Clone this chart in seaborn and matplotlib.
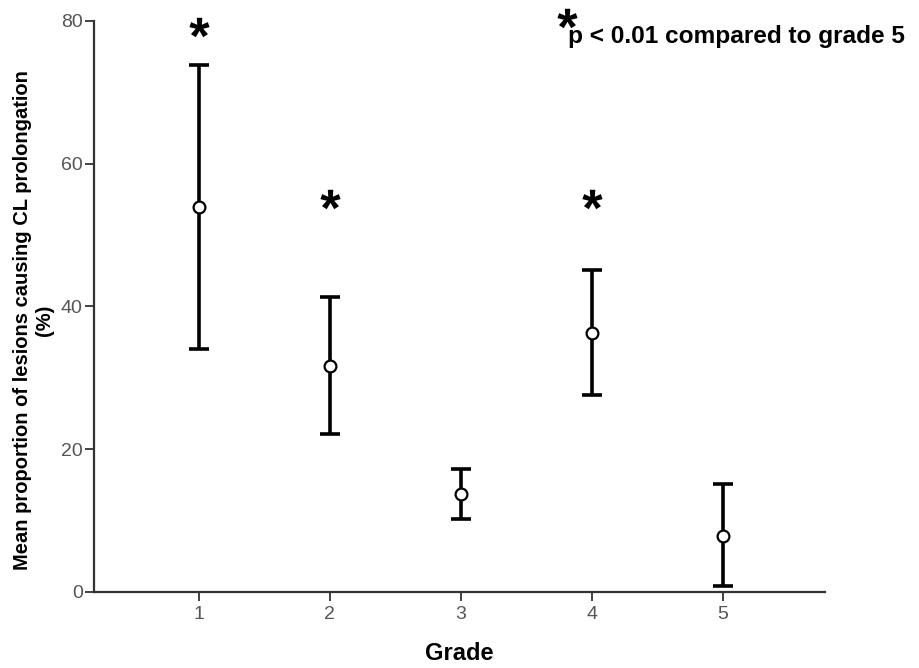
import matplotlib
matplotlib.use("Agg")
import matplotlib.pyplot as plt
import seaborn as sns
import pandas as pd
import numpy as np
from matplotlib.textpath import TextPath
from matplotlib.font_manager import FontProperties
from matplotlib.path import Path

# Mean proportion (%) per grade with lower/upper error-bar limits
grades = [1, 2, 3, 4, 5]
means = [53.9, 31.7, 13.7, 36.3, 7.8]
lower = [34.0, 22.1, 10.2, 27.6, 0.8]
upper = [73.8, 41.3, 17.2, 45.1, 15.1]
# Grades marked as significant and the height of their asterisks
sig_grades = [1, 2, 4]
sig_heights = [79.2, 55.1, 55.1]

df = pd.DataFrame({"Grade": grades, "Mean": means, "Lower": lower, "Upper": upper})
sig = pd.DataFrame({"Grade": sig_grades, "Height": sig_heights})

sns.set_theme(style="ticks")
plt.rcParams["font.family"] = ["Liberation Sans", "DejaVu Sans"]
plt.rcParams["text.color"] = "black"
plt.rcParams["axes.labelcolor"] = "black"

# Bold asterisk glyph turned into a centred marker path
_tp = TextPath((0, 0), "*", prop=FontProperties(family="Liberation Sans", weight="bold"))
_v = _tp.vertices.copy()
_codes = _tp.codes
_close = _codes == Path.CLOSEPOLY
_pts = _v[~_close]
_v -= (_pts.min(axis=0) + _pts.max(axis=0)) / 2
_v[_close] = 0.0
star = Path(_v, _codes)

fig = plt.figure(figsize=(9.2, 6.68), dpi=100)
ax = fig.add_axes([0.102, 0.1138, 0.795, 0.8548])

yerr = np.vstack([df["Mean"] - df["Lower"], df["Upper"] - df["Mean"]])
ax.errorbar(df["Grade"], df["Mean"], yerr=yerr, fmt="none", ecolor="black",
            elinewidth=2.6, capsize=7, capthick=2.6, zorder=2)
sns.scatterplot(data=df, x="Grade", y="Mean", ax=ax, marker="o", s=72,
                facecolor="white", edgecolor="black", linewidth=1.6, zorder=3)

sns.scatterplot(data=sig, x="Grade", y="Height", ax=ax, marker=star, s=210,
                color="black", linewidth=0, zorder=4, clip_on=False)

# Key for the asterisk
ax.plot([0.6165], [0.973], transform=fig.transFigure, marker=star,
        markersize=14.5, markeredgewidth=0, color="black", clip_on=False)
fig.text(0.617, 0.9356, "p < 0.01 compared to grade 5", ha="left",
         va="baseline", fontsize=17.6, fontweight="bold")

ax.set_xlim(0.2, 5.78)
ax.set_ylim(0, 80)
ax.set_xticks(grades)
ax.set_yticks([0, 20, 40, 60, 80])
ax.tick_params(axis="both", colors="#333333", labelcolor="#555555",
               labelsize=14, length=6.5, width=1.3)
ax.tick_params(axis="y", pad=1.5)
ax.tick_params(axis="x", pad=3.5)
sns.despine(ax=ax)
for side in ("left", "bottom"):
    ax.spines[side].set_linewidth(1.6)
    ax.spines[side].set_color("#333333")

ax.set_xlabel("Grade", fontsize=17, fontweight="bold")
ax.xaxis.label.set_va("center")
ax.xaxis.set_label_coords(0.5, -0.107)
ax.set_ylabel("Mean proportion of lesions causing CL prolongation\n(%)",
              fontsize=14.5, fontweight="bold", linespacing=1.2)
ax.yaxis.label.set_va("center")
ax.yaxis.set_label_coords(-0.082, 0.476)

fig.savefig("out.png", dpi=100)
